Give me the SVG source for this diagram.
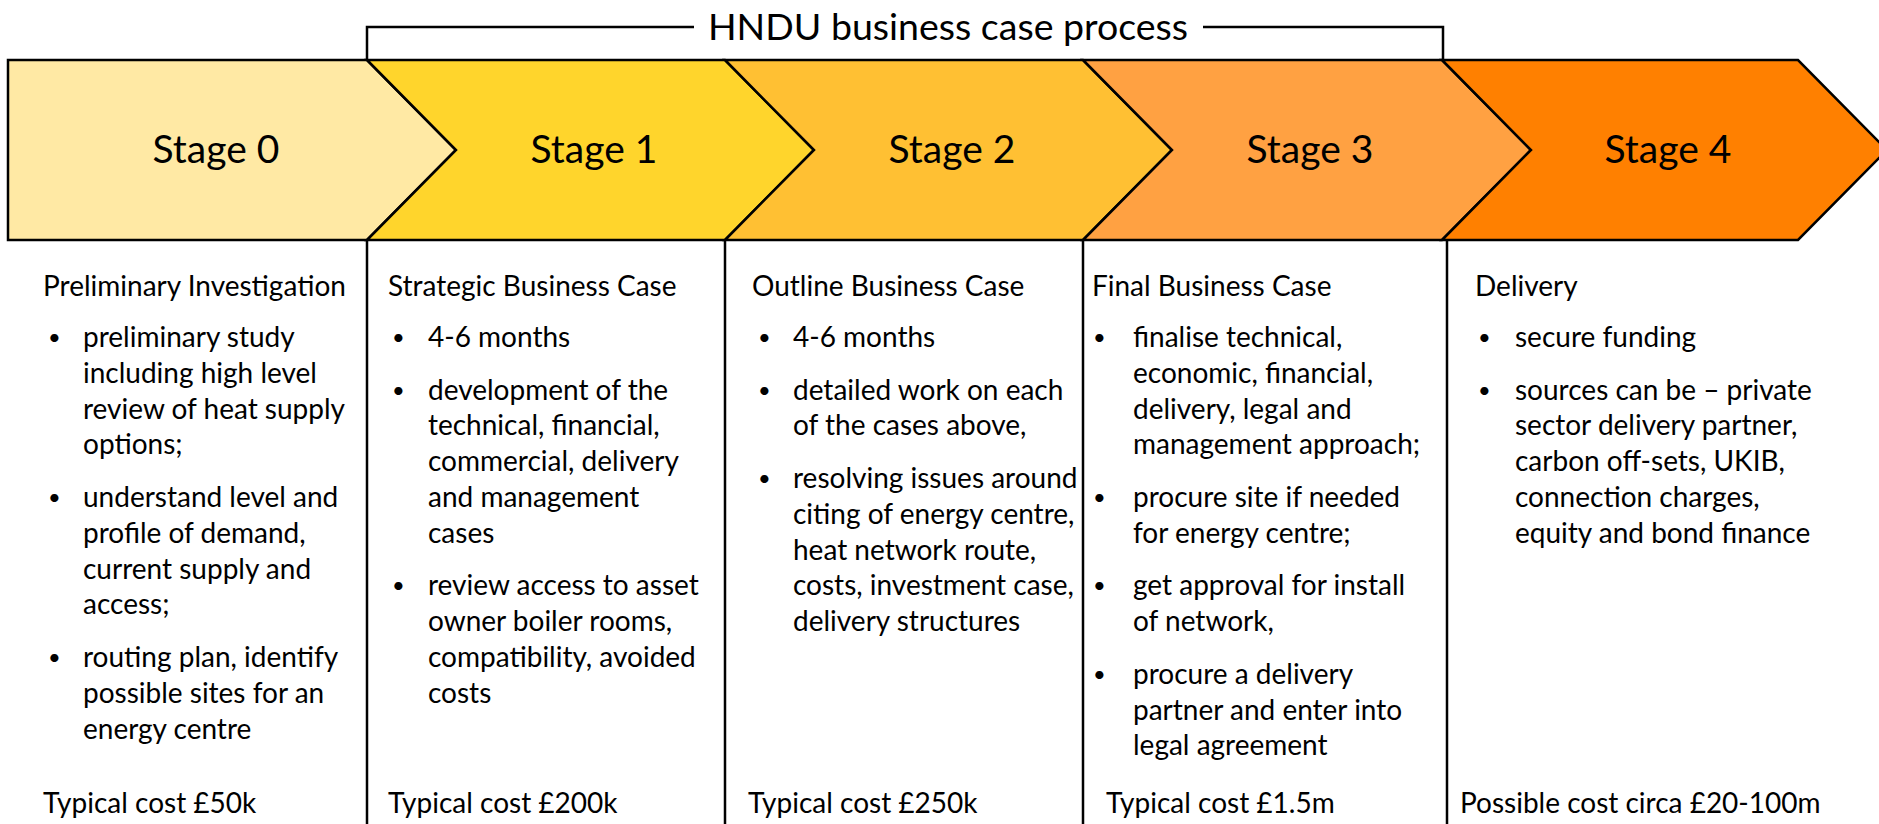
<svg xmlns="http://www.w3.org/2000/svg" width="1879" height="824" viewBox="0 0 1879 824">
<style>
.chev{stroke:#000;stroke-width:2.5;stroke-linejoin:miter}
.line{fill:none;stroke:#000;stroke-width:2.5}
.stage{font-family:Lato,"Open Sans",sans-serif;font-size:39px;fill:#000;text-anchor:middle}
.title{font-family:Lato,"Open Sans",sans-serif;font-size:37.5px;fill:#000;text-anchor:middle}
.t{font-family:Lato,"Open Sans",sans-serif;font-size:28px;fill:#000}
.b{font-size:22px}
</style>
<rect width="1879" height="824" fill="#fff"/>
<g id="bracket">
<path class="line" d="M367,60 V27 H694 M1203,27 H1443 V60"/>
<text class="title" x="948" y="40">HNDU business case process</text>
</g>
<g id="stage0">
<polygon class="chev" fill="#FFE9A4" points="8,60 367,60 456,150 367,240 8,240"/>
<text class="stage" x="216" y="163">Stage 0</text>
</g>
<g id="stage1">
<polygon class="chev" fill="#FFD52C" points="367,60 725,60 814,150 725,240 367,240 456,150"/>
<text class="stage" x="594" y="163">Stage 1</text>
</g>
<g id="stage2">
<polygon class="chev" fill="#FFC033" points="725,60 1083,60 1172,150 1083,240 725,240 814,150"/>
<text class="stage" x="952" y="163">Stage 2</text>
</g>
<g id="stage3">
<polygon class="chev" fill="#FFA142" points="1083,60 1442,60 1531,150 1442,240 1083,240 1172,150"/>
<text class="stage" x="1310" y="163">Stage 3</text>
</g>
<g id="stage4">
<polygon class="chev" fill="#FF8000" points="1442,60 1798,60 1887,150 1798,240 1442,240 1531,150"/>
<text class="stage" x="1668" y="163">Stage 4</text>
</g>
<g id="dividers">
<path class="line" d="M367,240 V824 M725,240 V824 M1083,240 V824 M1447,240 V824"/>
</g>
<g id="col0" class="t">
<text x="43" y="296">Preliminary Investigation</text>
<text class="b" x="48" y="345">•</text>
<text x="83" y="347">preliminary study</text>
<text x="83" y="382.8">including high level</text>
<text x="83" y="418.6">review of heat supply</text>
<text x="83" y="454.4">options;</text>
<text class="b" x="48" y="505">•</text>
<text x="83" y="507">understand level and</text>
<text x="83" y="542.8">profile of demand,</text>
<text x="83" y="578.6">current supply and</text>
<text x="83" y="614.4">access;</text>
<text class="b" x="48" y="665">•</text>
<text x="83" y="667">routing plan, identify</text>
<text x="83" y="702.8">possible sites for an</text>
<text x="83" y="738.6">energy centre</text>
<text x="43" y="813">Typical cost £50k</text>
</g>
<g id="col1" class="t">
<text x="388" y="296">Strategic Business Case</text>
<text class="b" x="392" y="345">•</text>
<text x="428" y="347">4-6 months</text>
<text class="b" x="392" y="397.6">•</text>
<text x="428" y="399.6">development of the</text>
<text x="428" y="435.4">technical, financial,</text>
<text x="428" y="471.2">commercial, delivery</text>
<text x="428" y="507">and management</text>
<text x="428" y="542.8">cases</text>
<text class="b" x="392" y="593.4">•</text>
<text x="428" y="595.4">review access to asset</text>
<text x="428" y="631.2">owner boiler rooms,</text>
<text x="428" y="667">compatibility, avoided</text>
<text x="428" y="702.8">costs</text>
<text x="388" y="813">Typical cost £200k</text>
</g>
<g id="col2" class="t">
<text x="752" y="296">Outline Business Case</text>
<text class="b" x="758" y="345">•</text>
<text x="793" y="347">4-6 months</text>
<text class="b" x="758" y="397.6">•</text>
<text x="793" y="399.6">detailed work on each</text>
<text x="793" y="435.4">of the cases above,</text>
<text class="b" x="758" y="486">•</text>
<text x="793" y="488">resolving issues around</text>
<text x="793" y="523.8">citing of energy centre,</text>
<text x="793" y="559.6">heat network route,</text>
<text x="793" y="595.4">costs, investment case,</text>
<text x="793" y="631.2">delivery structures</text>
<text x="748" y="813">Typical cost £250k</text>
</g>
<g id="col3" class="t">
<text x="1092" y="296">Final Business Case</text>
<text class="b" x="1093" y="345">•</text>
<text x="1133" y="347">finalise technical,</text>
<text x="1133" y="382.8">economic, financial,</text>
<text x="1133" y="418.6">delivery, legal and</text>
<text x="1133" y="454.4">management approach;</text>
<text class="b" x="1093" y="505">•</text>
<text x="1133" y="507">procure site if needed</text>
<text x="1133" y="542.8">for energy centre;</text>
<text class="b" x="1093" y="593.4">•</text>
<text x="1133" y="595.4">get approval for install</text>
<text x="1133" y="631.2">of network,</text>
<text class="b" x="1093" y="681.8">•</text>
<text x="1133" y="683.8">procure a delivery</text>
<text x="1133" y="719.6">partner and enter into</text>
<text x="1133" y="755.4">legal agreement</text>
<text x="1106" y="813">Typical cost £1.5m</text>
</g>
<g id="col4" class="t">
<text x="1475" y="296">Delivery</text>
<text class="b" x="1478" y="345">•</text>
<text x="1515" y="347">secure funding</text>
<text class="b" x="1478" y="397.6">•</text>
<text x="1515" y="399.6">sources can be – private</text>
<text x="1515" y="435.4">sector delivery partner,</text>
<text x="1515" y="471.2">carbon off-sets, UKIB,</text>
<text x="1515" y="507">connection charges,</text>
<text x="1515" y="542.8">equity and bond finance</text>
<text x="1460" y="813">Possible cost circa £20-100m</text>
</g>
</svg>
